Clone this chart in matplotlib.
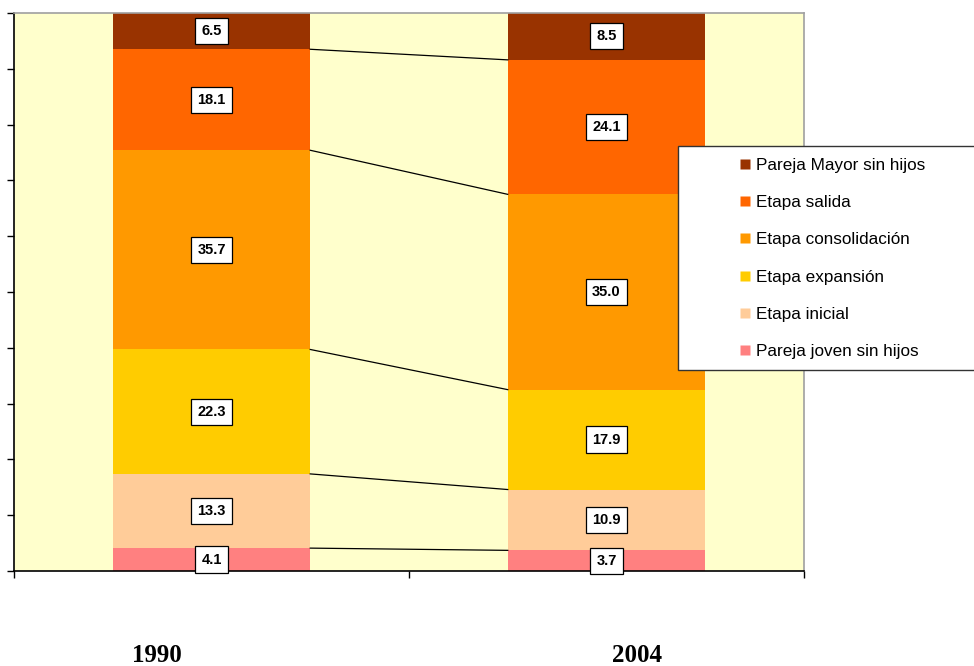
import matplotlib.pyplot as plt
import numpy as np
from matplotlib.lines import Line2D
from matplotlib.patches import Rectangle

plt.rcParams['font.family'] = ['Liberation Sans', 'DejaVu Sans']

years = ["1990", "2004"]
stages = [
    "Pareja joven sin hijos",
    "Etapa inicial",
    "Etapa expansión",
    "Etapa consolidación",
    "Etapa salida",
    "Pareja Mayor sin hijos",
]
# bottom to top, one list per stage
share_1990 = [4.1, 13.3, 22.3, 35.7, 18.1, 6.5]
share_2004 = [3.7, 10.9, 17.9, 35.0, 24.1, 8.5]
stage_colors = ["#FF8080", "#FFCC99", "#FFCC00", "#FF9900", "#FF6600", "#993300"]

fig = plt.figure(figsize=(9.74, 6.66), dpi=100)
ax = fig.add_axes([14 / 974, 95 / 666, 790 / 974, 558 / 666])
ax.set_facecolor("#FFFFCC")

values = np.array([share_1990, share_2004])  # shape (years, stages)
x = np.arange(len(years))
bar_w = 0.5
bottoms = np.zeros(len(years))
for i, stage in enumerate(stages):
    ax.bar(x, values[:, i], bottom=bottoms, width=bar_w, color=stage_colors[i],
           edgecolor="none", zorder=2)
    for xi, b, v in zip(x, bottoms, values[:, i]):
        ax.text(xi, b + v / 2, f"{v:.1f}", ha="center", va="center",
                fontsize=10.5, fontweight="bold", zorder=5,
                bbox=dict(boxstyle="square,pad=0.42", fc="white", ec="black", lw=0.9))
    bottoms = bottoms + values[:, i]

# series lines between the tops of each segment
cum = np.cumsum(values, axis=1)
for j in range(len(stages) - 1):
    ax.plot([x[0] + bar_w / 2, x[1] - bar_w / 2], [cum[0, j], cum[1, j]],
            color="black", lw=0.9, zorder=3)

ax.set_xlim(-0.5, 1.5)
ax.set_ylim(0, 100)
ax.set_yticks(np.arange(0, 101, 10))
ax.set_yticklabels([])
ax.set_xticks([-0.5, 0.5, 1.5])
ax.set_xticklabels([])
ax.tick_params(axis="both", direction="out", length=5, width=1, color="black")
for side in ("left", "bottom"):
    ax.spines[side].set_color("black")
    ax.spines[side].set_linewidth(1.2)
for side in ("top", "right"):
    ax.spines[side].set_color("#A0A0A0")
    ax.spines[side].set_linewidth(1.2)

# year captions under the axis
fig.text(157 / 974, 1 - 655 / 666, years[0], ha="center", va="center",
         fontsize=18, fontweight="bold", family="Liberation Serif")
fig.text(637 / 974, 1 - 655 / 666, years[1], ha="center", va="center",
         fontsize=18, fontweight="bold", family="Liberation Serif")

# legend box
fig.patches.append(Rectangle((678 / 974, 1 - 370 / 666), 300 / 974, 224 / 666,
                             transform=fig.transFigure, fc="white", ec="#333333",
                             lw=1.0, zorder=10))
handles = [Line2D([], [], marker="s", ls="none", markersize=7.5,
                  markerfacecolor=c, markeredgecolor="none")
           for c in stage_colors[::-1]]
leg = fig.legend(handles, stages[::-1], loc="upper left",
                 bbox_to_anchor=(739 / 974, 1 - 158 / 666), frameon=False,
                 fontsize=12.3, handlelength=0.7, handletextpad=0.3,
                 labelspacing=1.3, borderpad=0, borderaxespad=0)
leg.set_zorder(11)

fig.savefig("out.png", dpi=100)
